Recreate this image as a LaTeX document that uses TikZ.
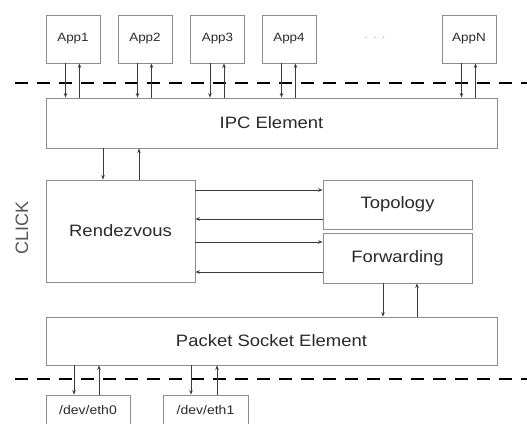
\documentclass[tikz,border=0pt]{standalone}
\usepackage{fontspec}
\setmainfont[FakeStretch=1.12]{Liberation Sans}
\newfontfamily\clickfont{Liberation Sans}
\usetikzlibrary{arrows.meta,calc}
\definecolor{boxline}{HTML}{8C8C8C}
\definecolor{arrline}{HTML}{3C3C3C}
\definecolor{txt}{HTML}{2A2A2A}
\tikzset{
  box/.style={draw=boxline,line width=0.8pt,rectangle,inner sep=0pt,anchor=center,text=txt},
  bigtxt/.style={font=\fontsize{16.5}{18}\selectfont},
  apptxt/.style={font=\fontsize{12}{14}\selectfont},
  devtxt/.style={font=\fontsize{12.5}{14}\selectfont},
  arr/.style={draw=arrline,line width=0.8pt,-{Stealth[length=4.5pt,width=3.5pt]}},
  sep/.style={draw=black,line width=2.4pt,dash pattern=on 13pt off 9pt}
}
\begin{document}
\begin{tikzpicture}[x=1pt,y=-1pt]
\useasboundingbox (0,0) rectangle (527,423);
\fill[white] (0,0) rectangle (527,423);
% separators
\coordinate (s1a) at (15,83);
\coordinate (s1b) at (530,83);
\coordinate (s2a) at (15,379);
\coordinate (s2b) at (530,379);
\draw[sep] (s1a) -- (s1b);
\draw[sep] (s2a) -- (s2b);
% apps
\node[box,apptxt,minimum width=54pt,minimum height=48pt] (app1) at (73,39) {App1};
\node[box,apptxt,minimum width=54pt,minimum height=48pt] (app2) at (145,39) {App2};
\node[box,apptxt,minimum width=54pt,minimum height=48pt] (app3) at (217.5,39) {App3};
\node[box,apptxt,minimum width=54pt,minimum height=48pt] (app4) at (289,39) {App4};
\node[box,apptxt,minimum width=54pt,minimum height=48pt] (appn) at (469,39) {AppN};
\node[text=gray!60,apptxt] (dots) at (375,38) {. . .};
% main boxes
\node[box,bigtxt,minimum width=451pt,minimum height=50pt] (ipc) at (271.5,123) {IPC Element};
\node[box,bigtxt,minimum width=149pt,minimum height=102pt] (rdv) at (120.5,231) {Rendezvous};
\node[box,bigtxt,minimum width=149pt,minimum height=49pt] (topo) at (397.5,204.5) {Topology};
\node[box,bigtxt,minimum width=149pt,minimum height=50pt] (fwd) at (397.5,258) {Forwarding};
\node[box,bigtxt,minimum width=451pt,minimum height=48pt] (pse) at (271.5,341) {Packet Socket Element};
\node[box,devtxt,minimum width=84pt,minimum height=31pt] (eth0) at (88,410.5) {/dev/eth0};
\node[box,devtxt,minimum width=85pt,minimum height=31pt] (eth1) at (205.5,410.5) {/dev/eth1};
\node[text=txt!80,rotate=90,font=\clickfont\fontsize{18}{20}\selectfont] (click) at (22,228) {CLICK};
% app <-> ipc
\foreach \a in {app1,app2,app3,app4,appn}{
  \draw[arr] ([xshift=-7.5pt]\a.south) -- ([xshift=-7.5pt]\a.south |- ipc.north);
  \draw[arr] ([xshift=6.5pt]\a.south |- ipc.north) -- ([xshift=6.5pt]\a.south);
}
% ipc <-> rendezvous
\draw[arr] ([xshift=-17.5pt]rdv.north |- ipc.south) -- ([xshift=-17.5pt]rdv.north);
\draw[arr] ([xshift=18.5pt]rdv.north) -- ([xshift=18.5pt]rdv.north |- ipc.south);
% rendezvous <-> topology / forwarding
\draw[arr] ([yshift=14.5pt]topo.west -| rdv.east) -- ([yshift=14.5pt]topo.west);
\draw[arr] ([yshift=-14.5pt]topo.west) -- ([yshift=-14.5pt]topo.west -| rdv.east);
\draw[arr] ([yshift=16pt]fwd.west -| rdv.east) -- ([yshift=16pt]fwd.west);
\draw[arr] ([yshift=-14pt]fwd.west) -- ([yshift=-14pt]fwd.west -| rdv.east);
% forwarding <-> packet socket
\draw[arr] ([xshift=-14.5pt]fwd.south) -- ([xshift=-14.5pt]fwd.south |- pse.north);
\draw[arr] ([xshift=19.5pt]fwd.south |- pse.north) -- ([xshift=19.5pt]fwd.south);
% packet socket <-> devices
\draw[arr] ([xshift=-14pt]eth0.north |- pse.south) -- ([xshift=-14pt]eth0.north);
\draw[arr] ([xshift=11pt]eth0.north) -- ([xshift=11pt]eth0.north |- pse.south);
\draw[arr] ([xshift=-14.5pt]eth1.north |- pse.south) -- ([xshift=-14.5pt]eth1.north);
\draw[arr] ([xshift=11.5pt]eth1.north) -- ([xshift=11.5pt]eth1.north |- pse.south);
\end{tikzpicture}
\end{document}
